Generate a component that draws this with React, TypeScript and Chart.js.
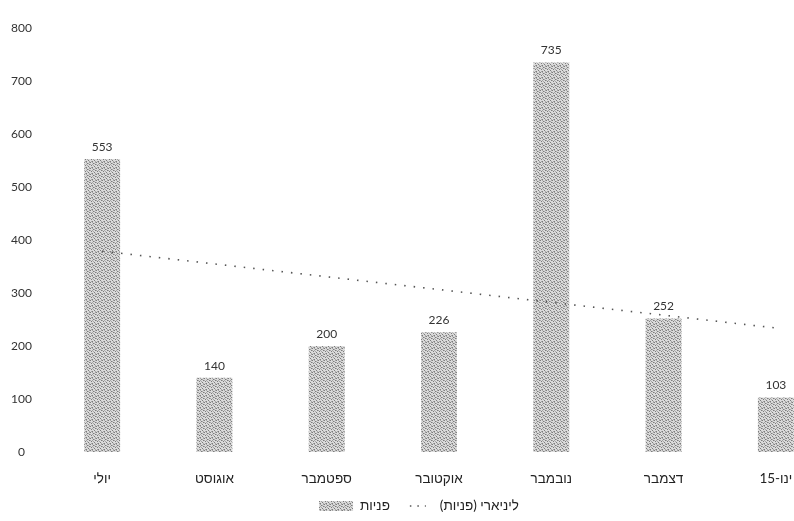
import React, { useEffect, useRef } from "react";
import { Chart, registerables } from "chart.js";

Chart.register(...registerables);

const categories = ["יולי", "אוגוסט", "ספטמבר", "אוקטובר", "נובמבר", "דצמבר", "ינו-15"];
const inquiries = [553, 140, 200, 226, 735, 252, 103];
const trendEnds = [379, null, null, null, null, null, 234];
const yTickValues = [0, 100, 200, 300, 400, 500, 600, 700, 800];
const seriesName = "פניות";
const trendName = "ליניארי (פניות)";

const FONT = "Lato, 'Liberation Sans', 'DejaVu Sans', sans-serif";

function makePattern(ctx: CanvasRenderingContext2D) {
  const c = document.createElement("canvas");
  c.width = 6;
  c.height = 6;
  const p = c.getContext("2d")!;
  p.fillStyle = "#dadada";
  p.fillRect(0, 0, 6, 6);
  p.fillStyle = "#7c7c7c";
  [[0, 0], [3, 1], [5, 2], [1, 3], [4, 4], [2, 5]].forEach(([x, y]) => p.fillRect(x, y, 1, 1));
  p.fillStyle = "#a6a6a6";
  [[2, 0], [5, 0], [0, 2], [3, 3], [1, 5], [5, 5], [4, 1], [2, 2]].forEach(([x, y]) => p.fillRect(x, y, 1, 1));
  return ctx.createPattern(c, "repeat")!;
}

const valueLabels = {
  id: "valueLabels",
  afterDatasetsDraw(chart: any) {
    const meta = chart.getDatasetMeta(0);
    const ctx = chart.ctx;
    ctx.save();
    ctx.font = `12px ${FONT}`;
    ctx.fillStyle = "#333";
    ctx.textAlign = "center";
    ctx.textBaseline = "bottom";
    meta.data.forEach((el: any, i: number) => {
      ctx.fillText(String(chart.data.datasets[0].data[i]), el.x, el.y - 6);
    });
    ctx.restore();
  },
};

// Legend drawn from the dataset labels (Hebrew labels rendered right-to-left).
const customLegend = {
  id: "customLegend",
  afterDraw(chart: any) {
    const ctx: CanvasRenderingContext2D = chart.ctx;
    const ds = chart.data.datasets;
    const barDs = ds[0];
    const lineDs = ds[1];
    ctx.save();
    ctx.font = `13.5px ${FONT}`;
    ctx.direction = "rtl";
    ctx.textAlign = "left";
    ctx.textBaseline = "middle";
    const y = chart.height - 15;
    const swW = 34;
    const swH = 10;
    const gap = 7;
    const itemGap = 20;
    const dotW = 16;
    const w1 = ctx.measureText(barDs.label).width;
    const w2 = ctx.measureText(lineDs.label).width;
    const total = swW + gap + w1 + itemGap + dotW + 14 + w2;
    let x = chart.width / 2 + 2 - total / 2;
    ctx.fillStyle = barDs.backgroundColor;
    ctx.fillRect(x, y - swH / 2, swW, swH);
    x += swW + gap;
    ctx.fillStyle = "#222";
    ctx.fillText(barDs.label, x, y);
    x += w1 + itemGap;
    ctx.strokeStyle = lineDs.borderColor;
    ctx.lineWidth = 1.5;
    ctx.setLineDash([1.5, 6]);
    ctx.beginPath();
    ctx.moveTo(x, y);
    ctx.lineTo(x + dotW, y);
    ctx.stroke();
    ctx.setLineDash([]);
    x += dotW + 14;
    ctx.fillText(lineDs.label, x, y);
    ctx.restore();
  },
};

export default function App() {
  const ref = useRef<HTMLCanvasElement>(null);
  useEffect(() => {
    const canvas = ref.current!;
    const ctx = canvas.getContext("2d")!;
    const pattern = makePattern(ctx);
    const chart = new Chart(canvas, {
      type: "bar",
      data: {
        labels: categories,
        datasets: [
          {
            type: "bar",
            label: seriesName,
            data: inquiries,
            backgroundColor: pattern,
            borderWidth: 0,
            categoryPercentage: 1,
            barPercentage: 0.32,
            order: 2,
          },
          {
            type: "line",
            label: trendName,
            data: trendEnds as any,
            borderColor: "#555",
            borderWidth: 1.6,
            borderDash: [1.5, 8],
            pointRadius: 0,
            spanGaps: true,
            fill: false,
            order: 1,
          },
        ],
      },
      options: {
        animation: false,
        responsive: false,
        devicePixelRatio: 1,
        layout: { padding: { left: 0, top: 28, right: 2, bottom: 29 } },
        plugins: {
          tooltip: { enabled: false },
          legend: { display: false },
        },
        scales: {
          x: {
            grid: { display: false, drawTicks: false },
            border: { display: false },
            ticks: { color: "#222", font: { family: FONT, size: 13.5 }, padding: 19, maxRotation: 0 },
            afterFit: (s: any) => {
              s.height = 40;
            },
          },
          y: {
            min: 0,
            max: 800,
            afterBuildTicks: (s: any) => {
              s.ticks = yTickValues.map((v) => ({ value: v }));
            },
            grid: { display: false, drawTicks: false },
            border: { display: false },
            ticks: { color: "#333", font: { family: FONT, size: 12 }, padding: 14, crossAlign: "center" },
            afterFit: (s: any) => {
              s.width = 46;
            },
          },
        },
      },
      plugins: [valueLabels, customLegend],
    });
    return () => chart.destroy();
  }, []);
  return (
    <div style={{ position: "fixed", left: 0, top: 0, width: 794, height: 521, overflow: "hidden", background: "#fff" }}>
      <canvas ref={ref} width={834} height={521} style={{ display: "block" }} />
    </div>
  );
}
